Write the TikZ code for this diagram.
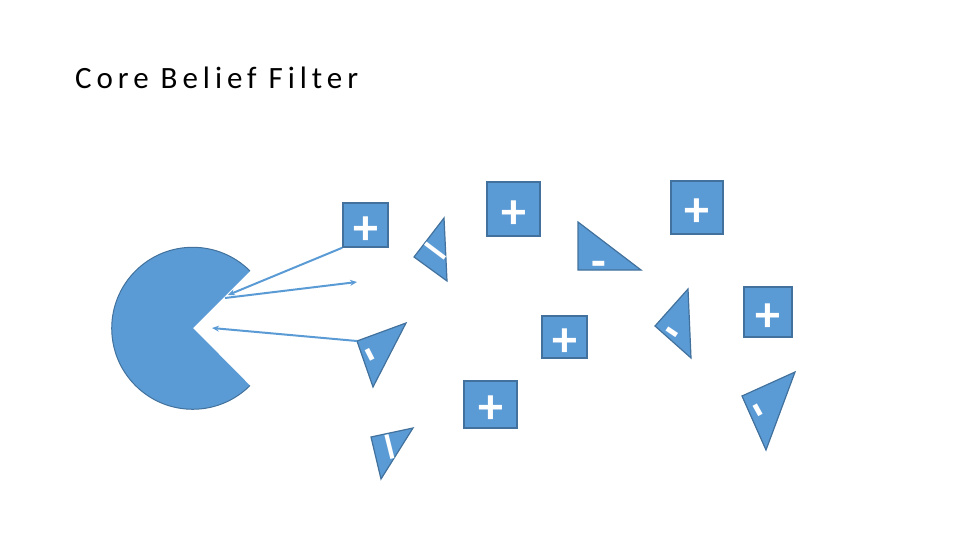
\documentclass[tikz,border=0pt]{standalone}
\usepackage{fontspec}
\setmainfont{Carlito}
\usetikzlibrary{arrows.meta}
\definecolor{fillblue}{HTML}{5B9BD5}
\definecolor{edgeblue}{HTML}{41719C}
\definecolor{lineblue}{HTML}{5B9BD5}
\newcommand{\plussign}{\raisebox{-6.5pt}{+}}
\newcommand{\minussign}{\raisebox{-2.5pt}{-}}
\newcommand{\dashsign}{\raisebox{-2.5pt}{\scalebox{1.45}[1]{–}}}
\begin{document}
\begin{tikzpicture}[x=1pt,y=-1pt,
  sq/.style={draw=edgeblue, fill=fillblue, line width=1.5pt, rectangle, inner sep=0pt,
    text=white, font=\fontsize{50}{50}\selectfont\bfseries, text height=25pt, text depth=0pt},
  tri/.style={draw=edgeblue, fill=fillblue, line width=1.2pt, line join=miter},
  sign/.style={text=white, inner sep=0pt, font=\fontsize{48}{48}\selectfont\bfseries,
    text height=24pt, text depth=0pt},
  conn/.style={draw=lineblue, line width=2pt, -{Stealth[length=7pt,width=6pt]}}]
\useasboundingbox (0,0) rectangle (960,540);

% title
\node[anchor=base west, inner sep=0pt, font=\fontsize{31}{37}\selectfont\addfontfeature{LetterSpace=16}] (title) at (75,89) {Core Belief Filter};

% pacman
\coordinate (pc) at (193,328);
\fill[fillblue] (pc) -- (250,271) arc[start angle=-45, end angle=-315, radius=81] -- cycle;
\draw[edgeblue, line width=1pt] (250,271) arc[start angle=-45, end angle=-315, radius=81];

% squares
\node[sq, minimum width=45pt, minimum height=44pt] (sqA) at (365.5,225) {\plussign};
\node[sq, minimum width=53pt, minimum height=54pt] (sqC) at (513.5,209) {\plussign};
\node[sq, minimum width=52pt, minimum height=53pt] (sqE) at (697,207.5) {\plussign};
\node[sq, minimum width=48pt, minimum height=50pt] (sqG) at (768,312) {\plussign};
\node[sq, minimum width=45pt, minimum height=42pt] (sqJ) at (564.5,337) {\plussign};
\node[sq, minimum width=53pt, minimum height=47pt] (sqK) at (490.5,404.5) {\plussign};

% triangles
\coordinate (b1) at (444,218); \coordinate (b2) at (414,257); \coordinate (b3) at (447,281);
\draw[tri] (b1) -- (b2) -- (b3) -- cycle;
\node[sign, rotate=-37] (mB) at (436,250) {\dashsign};

\coordinate (d1) at (578,222); \coordinate (d2) at (578,270); \coordinate (d3) at (641,270);
\draw[tri] (d1) -- (d2) -- (d3) -- cycle;
\node[sign] (mD) at (599,263) {\minussign};

\coordinate (f1) at (688,289); \coordinate (f2) at (655,326); \coordinate (f3) at (691,358);
\draw[tri] (f1) -- (f2) -- (f3) -- cycle;
\node[sign, rotate=-34] (mF) at (672.5,332) {\minussign};

\coordinate (h1) at (795,372); \coordinate (h2) at (742,396); \coordinate (h3) at (766,450);
\draw[tri] (h1) -- (h2) -- (h3) -- cycle;
\node[sign, rotate=-61] (mH) at (758.5,409.5) {\minussign};

\coordinate (i1) at (406,323); \coordinate (i2) at (357,341); \coordinate (i3) at (373,387);
\draw[tri] (i1) -- (i2) -- (i3) -- cycle;
\node[sign, rotate=-63] (mI) at (371,354) {\minussign};

\coordinate (l1) at (413,428); \coordinate (l2) at (371,437); \coordinate (l3) at (381,479);
\draw[tri] (l1) -- (l2) -- (l3) -- cycle;
\node[sign, rotate=-76] (mL) at (390.5,447) {\dashsign};

% connectors
\coordinate (p1) at (228,295);
\coordinate (p2) at (225,298);
\coordinate (p3) at (357,282);
\coordinate (p4) at (212,328);
\draw[conn] (sqA.south west) -- (p1);
\draw[conn] (p2) -- (p3);
\draw[conn] (i2) -- (p4);
\end{tikzpicture}
\end{document}
